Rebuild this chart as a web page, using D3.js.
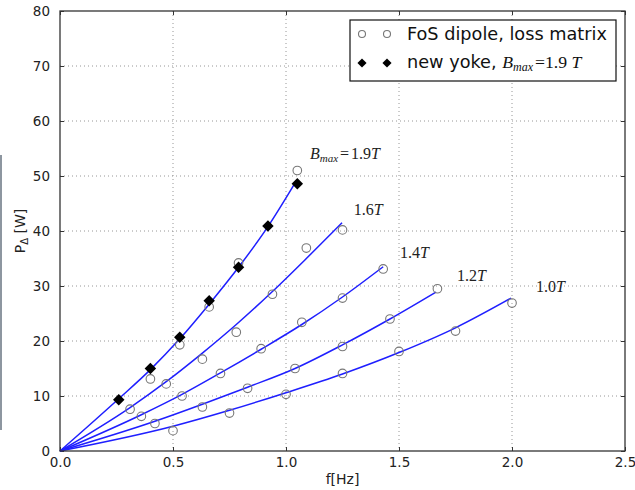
<!DOCTYPE html>
<html>
<head>
<meta charset="utf-8">
<script src="https://cdn.jsdelivr.net/npm/d3@7"></script>
<style>
  body { margin: 0; background: #fff; }
  svg { display: block; }
</style>
</head>
<body>
<svg id="chart" width="635" height="490"></svg>
<script>
// --- data ---
const xTicks = [0.0, 0.5, 1.0, 1.5, 2.0, 2.5];
const yTicks = [0, 10, 20, 30, 40, 50, 60, 70, 80];

// measured points, FoS dipole loss matrix (f [Hz], P [W])
const fos19 = [[0.40, 13.1], [0.53, 19.3], [0.66, 26.2], [0.79, 34.2], [1.05, 51.0]];
const fos16 = [[0.31, 7.6], [0.47, 12.2], [0.63, 16.7], [0.78, 21.6], [0.94, 28.5], [1.09, 36.9], [1.25, 40.2]];
const fos14 = [[0.36, 6.3], [0.54, 10.0], [0.71, 14.1], [0.89, 18.6], [1.07, 23.4], [1.25, 27.8], [1.43, 33.1]];
const fos12 = [[0.42, 5.0], [0.63, 8.0], [0.83, 11.4], [1.04, 15.0], [1.25, 19.0], [1.46, 24.0], [1.67, 29.5]];
const fos10 = [[0.50, 3.7], [0.75, 6.9], [1.00, 10.3], [1.25, 14.1], [1.50, 18.1], [1.75, 21.8], [2.00, 26.9]];

// new yoke, Bmax = 1.9 T
const yoke = [[0.26, 9.3], [0.40, 15.0], [0.53, 20.7], [0.66, 27.3], [0.79, 33.4], [0.92, 40.9], [1.05, 48.6]];

// fitted curves (blue)
const fit19 = [[0, 0], [0.26, 9.5], [0.40, 14.8], [0.53, 20.4], [0.66, 26.7], [0.79, 33.4], [0.92, 40.8], [1.047, 49.2]];
const fit16 = [[0, 0], [0.31, 7.9], [0.47, 12.6], [0.63, 17.8], [0.78, 23.0], [0.94, 29.0], [1.09, 35.0], [1.248, 41.5]];
const fit14 = [[0, 0], [0.36, 6.6], [0.54, 10.3], [0.71, 14.2], [0.89, 18.5], [1.07, 23.0], [1.25, 28.0], [1.43, 33.5]];
const fit12 = [[0, 0], [0.42, 5.4], [0.63, 8.5], [0.83, 11.6], [1.04, 15.0], [1.25, 19.3], [1.46, 24.0], [1.664, 28.9]];
const fit10 = [[0, 0], [0.50, 4.5], [0.75, 7.4], [1.00, 10.6], [1.25, 14.0], [1.50, 17.9], [1.75, 22.4], [1.996, 27.8]];

// curve labels: Bmax value and anchor in data units
const labelText = ["1.9", "1.6", "1.4", "1.2", "1.0"];
const labelAt = [[1.106, 53.1], [1.30, 42.9], [1.504, 35.1], [1.757, 30.9], [2.106, 28.9]];

// -------------------------
// setup
// -------------------------
const W = 635, H = 490;
const margin = { top: 11, right: 10, bottom: 39, left: 60 };
const iw = W - margin.left - margin.right;
const ih = H - margin.top - margin.bottom;

const svg = d3.select("#chart");
const sans = "DejaVu Sans, sans-serif";
const serif = "Liberation Serif, serif";

// thin grey strip on left edge of the screenshot
svg.append("rect").attr("x", 0).attr("y", 155).attr("width", 2).attr("height", 275)
  .attr("fill", "#8d96a0");

const x = d3.scaleLinear().domain([0, 2.5]).range([0, iw]);
const y = d3.scaleLinear().domain([0, 80]).range([ih, 0]);

const g = svg.append("g").attr("transform", `translate(${margin.left},${margin.top})`);

// --- grid ---
const grid = g.append("g").attr("stroke", "#8a8a8a").attr("stroke-width", 0.9)
  .attr("stroke-dasharray", "1,3");
grid.selectAll(".gx").data(xTicks.slice(1, -1)).enter().append("line")
  .attr("x1", d => x(d)).attr("x2", d => x(d)).attr("y1", 0).attr("y2", ih);
grid.selectAll(".gy").data(yTicks.slice(1, -1)).enter().append("line")
  .attr("y1", d => y(d)).attr("y2", d => y(d)).attr("x1", 0).attr("x2", iw);

// --- axes (inward ticks on all sides) ---
const styleAxis = sel => {
  sel.select(".domain").remove();
  sel.selectAll(".tick line").attr("stroke", "#333").attr("stroke-width", 1);
  sel.selectAll(".tick text").attr("fill", "#222").attr("font-family", sans).attr("font-size", 13.5);
};
g.append("g").attr("transform", `translate(0,${ih})`)
  .call(d3.axisBottom(x).tickValues(xTicks).tickFormat(d3.format(".1f")).tickSizeInner(-4).tickPadding(6))
  .call(styleAxis);
g.append("g")
  .call(d3.axisTop(x).tickValues(xTicks).tickFormat("").tickSizeInner(-4))
  .call(styleAxis);
g.append("g")
  .call(d3.axisLeft(y).tickValues(yTicks).tickSizeInner(-4).tickPadding(10))
  .call(styleAxis);
g.append("g").attr("transform", `translate(${iw},0)`)
  .call(d3.axisRight(y).tickValues(yTicks).tickFormat("").tickSizeInner(-4))
  .call(styleAxis);

// --- fitted curves ---
const line = d3.line().x(d => x(d[0])).y(d => y(d[1])).curve(d3.curveMonotoneX);
[fit19, fit16, fit14, fit12, fit10].forEach(f => {
  g.append("path").datum(f).attr("d", line)
    .attr("fill", "none").attr("stroke", "#1f1fff").attr("stroke-width", 1.5);
});

// --- markers ---
const circles = [].concat(fos19, fos16, fos14, fos12, fos10);
g.append("g").selectAll("circle").data(circles).enter().append("circle")
  .attr("cx", d => x(d[0])).attr("cy", d => y(d[1])).attr("r", 4.3)
  .attr("fill", "none").attr("stroke", "#777").attr("stroke-width", 1.1);

const diamond = d3.symbol().type(d3.symbolSquare).size(66);
g.append("g").selectAll("path").data(yoke).enter().append("path")
  .attr("d", diamond)
  .attr("transform", d => `translate(${x(d[0])},${y(d[1])}) rotate(45)`)
  .attr("fill", "#000");

// --- curve labels ---
labelText.forEach((t, i) => {
  const txt = g.append("text")
    .attr("x", x(labelAt[i][0])).attr("y", y(labelAt[i][1]))
    .attr("font-family", serif).attr("font-size", 16).attr("fill", "#222");
  if (i === 0) {
    txt.append("tspan").attr("font-style", "italic").text("B");
    txt.append("tspan").attr("font-style", "italic").attr("font-size", 11).attr("dy", 3).text("max");
    txt.append("tspan").attr("dy", -3).attr("dx", 2).text("=");
    txt.append("tspan").attr("dx", 2).text(t);
  } else {
    txt.append("tspan").text(t);
  }
  txt.append("tspan").attr("font-style", "italic").text("T");
});

// --- frame ---
g.append("rect").attr("width", iw).attr("height", ih)
  .attr("fill", "none").attr("stroke", "#333").attr("stroke-width", 1.3);

// --- axis labels ---
svg.append("text").attr("x", margin.left + iw / 2).attr("y", 484)
  .attr("text-anchor", "middle").attr("font-family", sans).attr("font-size", 14)
  .attr("fill", "#222").text("f[Hz]");

const yl = svg.append("text")
  .attr("transform", `translate(25,${margin.top + ih / 2}) rotate(-90)`)
  .attr("text-anchor", "middle").attr("font-family", sans).attr("font-size", 14).attr("fill", "#222");
yl.append("tspan").text("P");
yl.append("tspan").attr("font-size", 10).attr("dy", 3).text("\u0394");
yl.append("tspan").attr("dy", -3).text(" [W]");

// --- legend ---
const lg = svg.append("g").attr("transform", "translate(350,20)");
lg.append("rect").attr("width", 266).attr("height", 61)
  .attr("fill", "#fff").attr("stroke", "#111").attr("stroke-width", 1.2);
[12, 37].forEach(mx => {
  lg.append("circle").attr("cx", mx).attr("cy", 14).attr("r", 3.5)
    .attr("fill", "none").attr("stroke", "#777").attr("stroke-width", 1.1);
  lg.append("path").attr("d", d3.symbol().type(d3.symbolSquare).size(42))
    .attr("transform", `translate(${mx},43) rotate(45)`).attr("fill", "#000");
});
lg.append("text").attr("x", 57).attr("y", 20).attr("font-family", sans).attr("font-size", 17.7)
  .attr("fill", "#111").text("FoS dipole, loss matrix");
const l2 = lg.append("text").attr("x", 57).attr("y", 48).attr("font-family", sans).attr("font-size", 17.7)
  .attr("fill", "#111");
l2.append("tspan").text("new yoke, ");
l2.append("tspan").attr("font-family", serif).attr("font-style", "italic").text("B");
l2.append("tspan").attr("font-family", serif).attr("font-style", "italic").attr("font-size", 12).attr("dy", 3).text("max");
l2.append("tspan").attr("font-family", serif).attr("dy", -3).attr("dx", 2).text("=1.9 ");
l2.append("tspan").attr("font-family", serif).attr("font-style", "italic").text("T");
</script>
</body>
</html>
